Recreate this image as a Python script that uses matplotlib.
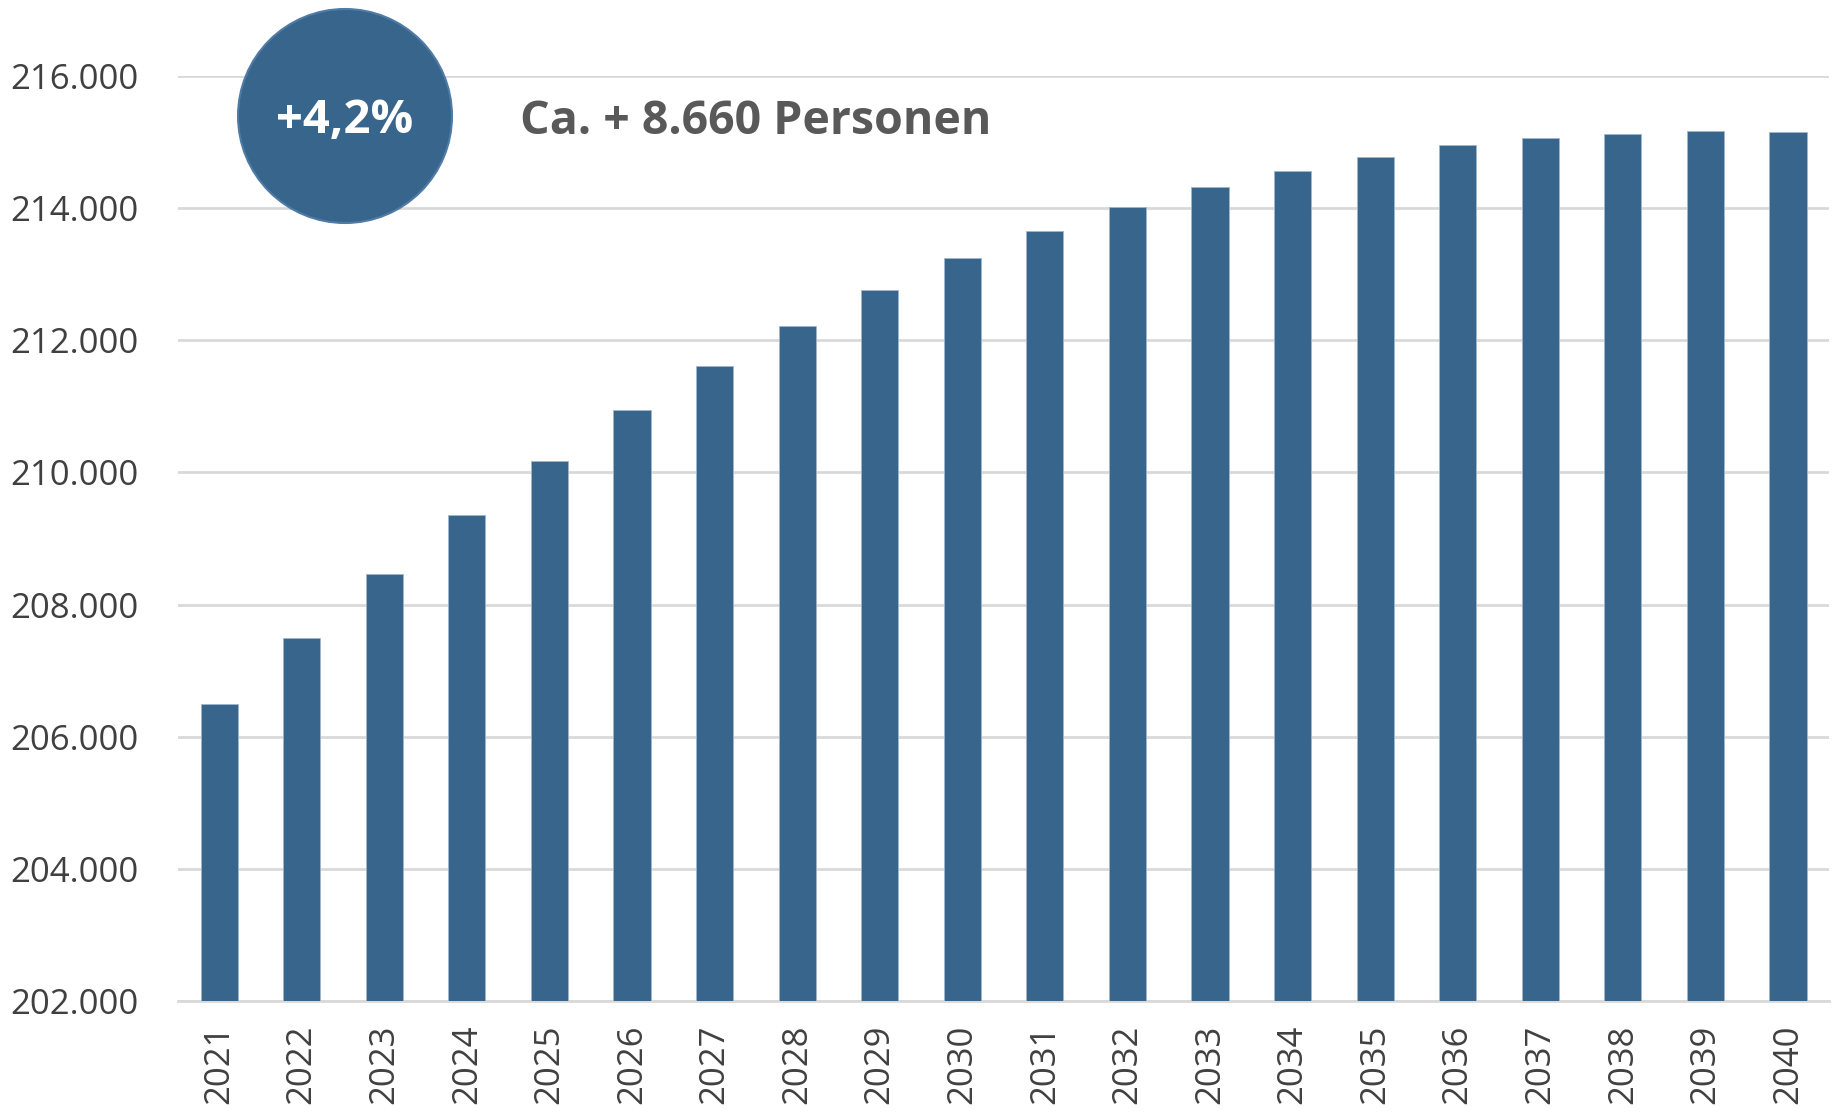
import matplotlib
matplotlib.use("Agg")
import matplotlib.pyplot as plt
from matplotlib.patches import Circle
from matplotlib.ticker import FuncFormatter

years = [str(y) for y in range(2021, 2041)]
population = [206490, 207500, 208460, 209360, 210180, 210940, 211610, 212210,
              212760, 213240, 213650, 214020, 214320, 214570, 214780, 214960,
              215060, 215130, 215170, 215150]
y_ticks = [202000, 204000, 206000, 208000, 210000, 212000, 214000, 216000]
badge_text = "+4,2%"
headline = "Ca. + 8.660 Personen"

BAR_COLOR = "#37658C"
TEXT_COLOR = "#404040"


def german_thousands(v, pos=None):
    return f"{int(v):,}".replace(",", ".")


def main():
    plt.rcParams["font.family"] = ["Open Sans", "DejaVu Sans"]

    fig = plt.figure(figsize=(18.33, 11.13), dpi=100)
    ax = fig.add_axes([0.097, 0.1006, 0.901, 0.8311])

    ax.bar(range(len(years)), population, width=0.45, color=BAR_COLOR,
           edgecolor="#9fb6cc", linewidth=0.6, zorder=3)

    ax.set_xlim(-0.5, len(years) - 0.5)
    ax.set_ylim(y_ticks[0], y_ticks[-1])
    ax.set_yticks(y_ticks)
    ax.yaxis.set_major_formatter(FuncFormatter(german_thousands))
    ax.set_xticks(range(len(years)))
    ax.set_xticklabels(years, rotation=90)

    ax.grid(axis="y", color="#d9d9d9", linewidth=2, zorder=0)
    for side in ("top", "right", "left"):
        ax.spines[side].set_visible(False)
    ax.spines["bottom"].set_color("#d9d9d9")
    ax.spines["bottom"].set_linewidth(2)
    ax.tick_params(length=0, colors=TEXT_COLOR)
    ax.tick_params(axis="y", labelsize=25, pad=28)
    ax.tick_params(axis="x", labelsize=25, pad=17)

    circle = Circle((3.45, 9.97), 1.07, transform=fig.dpi_scale_trans,
                    facecolor="#37658C", edgecolor="#4f7ba6", linewidth=1.5,
                    zorder=5)
    fig.patches.append(circle)
    fig.text(3.45 / 18.33, 9.93 / 11.13, badge_text, color="white",
             fontsize=34, fontweight="bold", ha="center", va="center", zorder=6)
    fig.text(5.2 / 18.33, 9.92 / 11.13, headline, color="#595959",
             fontsize=33.5, fontweight="bold", ha="left", va="center")

    fig.savefig("out.png", dpi=100)


if __name__ == "__main__":
    main()
